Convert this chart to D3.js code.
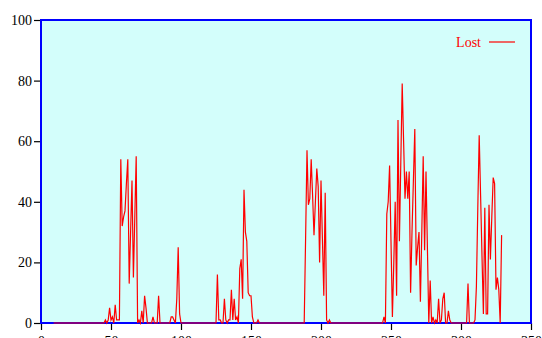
<!DOCTYPE html>
<html>
<head>
<meta charset="utf-8">
<script src="https://cdn.jsdelivr.net/npm/d3@7/dist/d3.min.js"></script>
<style>
  html, body { margin: 0; padding: 0; background: #ffffff; }
  svg { display: block; }
</style>
</head>
<body>
<svg id="chart" width="542" height="338"></svg>
<script>
// Series: packets lost per time step, starting at step 9
const seriesName = "Lost";
const startStep = 9;
const lostValues = [
  0,
  0, 0, 0, 0, 0, 0, 0, 0, 0, 0,        // 10-19
  0, 0, 0, 0, 0, 0, 0, 0, 0, 0,        // 20-29
  0, 0, 0, 0, 0, 0, 0, 0, 0, 0,        // 30-39
  0, 0, 0, 0, 0, 0, 1, 0, 1, 5,        // 40-49
  1, 2, 0, 6, 1, 1, 1, 54, 32, 35,     // 50-59
  37, 46, 54, 13, 30, 47, 15, 35, 55, 0, // 60-69
  1, 0, 4, 0, 9, 5, 0, 0, 0, 0,        // 70-79
  2, 0, 0, 0, 9, 0, 0, 0, 0, 0,        // 80-89
  0, 0, 0, 2, 2, 1, 0, 8, 25, 3,       // 90-99
  0, 0, 0, 0, 0, 0, 0, 0, 0, 0,        // 100-109
  0, 0, 0, 0, 0, 0, 0, 0, 0, 0,        // 110-119
  0, 0, 0, 0, 0, 0, 16, 1, 1, 0,       // 120-129
  0, 8, 1, 0, 1, 1, 11, 1, 8, 1,       // 130-139
  2, 0, 18, 21, 8, 44, 30, 27, 10, 9,  // 140-149
  9, 2, 0, 0, 0, 1, 0, 0, 0, 0,        // 150-159
  0, 0, 0, 0, 0, 0, 0, 0, 0, 0,        // 160-169
  0, 0, 0, 0, 0, 0, 0, 0, 0, 0,        // 170-179
  0, 0, 0, 0, 0, 0, 0, 0, 0, 28,       // 180-189
  57, 39, 41, 54, 42, 29, 40, 51, 45, 20, // 190-199
  47, 28, 9, 43, 1, 0, 1, 0, 0, 0,     // 200-209
  0, 0, 0, 0, 0, 0, 0, 0, 0, 0,        // 210-219
  0, 0, 0, 0, 0, 0, 0, 0, 0, 0,        // 220-229
  0, 0, 0, 0, 0, 0, 0, 0, 0, 0,        // 230-239
  0, 0, 0, 0, 0, 2, 0, 36, 40, 52,     // 240-249
  27, 2, 20, 40, 9, 67, 27, 53, 79, 60, // 250-259
  41, 50, 41, 50, 10, 30, 47, 64, 19, 25, // 260-269
  30, 7, 30, 55, 24, 50, 25, 0, 14, 0, // 270-279
  2, 0, 1, 0, 8, 0, 1, 8, 10, 0,       // 280-289
  0, 4, 1, 0, 0, 0, 0, 0, 0, 0,        // 290-299
  0, 0, 0, 0, 0, 13, 0, 0, 0, 0,       // 300-309
  1, 12, 38, 62, 42, 22, 3, 38, 3, 3,  // 310-319
  39, 21, 35, 48, 46, 11, 15, 11, 0, 29 // 320-329
];
const xTicks = [0, 50, 100, 150, 200, 250, 300, 350];
const yTicks = [0, 20, 40, 60, 80, 100];

const serif = "'Liberation Serif', 'Times New Roman', serif";
const svg = d3.select("#chart");
const plotLeft = 41, plotRight = 531, plotTop = 20, plotBottom = 323;

const x = d3.scaleLinear().domain([0, 350]).range([plotLeft, plotRight]);
const y = d3.scaleLinear().domain([0, 100]).range([plotBottom, plotTop]);

// plot background
svg.append("rect")
  .attr("x", plotLeft).attr("y", plotTop)
  .attr("width", plotRight - plotLeft).attr("height", plotBottom - plotTop)
  .attr("fill", "#d3fefb");

// axes
const yAxis = svg.append("g")
  .attr("transform", `translate(${plotLeft},0)`)
  .call(d3.axisLeft(y).tickValues(yTicks).tickSize(7).tickPadding(2));
const xAxis = svg.append("g")
  .attr("transform", `translate(0,${plotBottom})`)
  .call(d3.axisBottom(x).tickValues(xTicks).tickSize(7).tickPadding(6));
[yAxis, xAxis].forEach(g => {
  g.select(".domain").remove();
  g.selectAll(".tick line").attr("stroke", "#000").attr("stroke-width", 1.2);
  g.selectAll(".tick text")
    .attr("fill", "#000")
    .style("font-family", serif)
    .style("font-size", "14px");
});

// frame
svg.append("rect")
  .attr("x", plotLeft).attr("y", plotTop)
  .attr("width", plotRight - plotLeft).attr("height", plotBottom - plotTop)
  .attr("fill", "none")
  .attr("stroke", "#0000ff")
  .attr("stroke-width", 2);

// data line
const points = lostValues.map((v, i) => [startStep + i, v]);
const line = d3.line().x(d => x(d[0])).y(d => y(d[1]));
svg.append("path")
  .datum(points)
  .attr("d", line)
  .attr("fill", "none")
  .attr("stroke", "#ff0000")
  .attr("stroke-width", 1.2)
  .attr("stroke-linejoin", "miter");

// legend
const legend = svg.append("g");
legend.append("text")
  .attr("x", 481).attr("y", 47)
  .attr("text-anchor", "end")
  .style("font-family", serif)
  .style("font-size", "14px")
  .attr("fill", "#ff0000")
  .text(seriesName);
legend.append("line")
  .attr("x1", 489).attr("x2", 515)
  .attr("y1", 42).attr("y2", 42)
  .attr("stroke", "#ff0000")
  .attr("stroke-width", 1.2);
</script>
</body>
</html>
